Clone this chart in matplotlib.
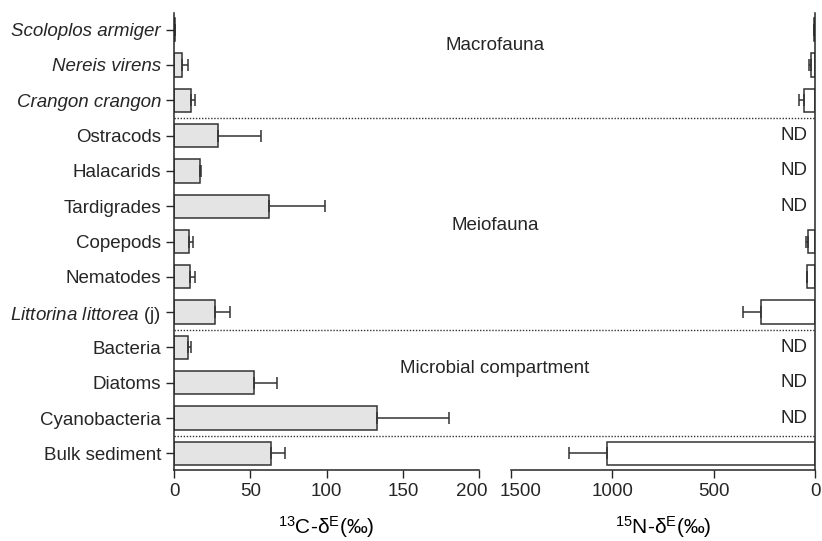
import matplotlib
matplotlib.use("Agg")
import matplotlib.pyplot as plt
import matplotlib.transforms as mtrans
import numpy as np

plt.rcParams['font.family'] = ['Liberation Sans', 'DejaVu Sans']
plt.rcParams['mathtext.fontset'] = 'custom'
plt.rcParams['mathtext.rm'] = 'Liberation Sans'
plt.rcParams['mathtext.it'] = 'Liberation Sans:italic'
plt.rcParams['font.size'] = 13.5

# Categories, top to bottom
taxa = ["Scoloplos armiger", "Nereis virens", "Crangon crangon", "Ostracods",
        "Halacarids", "Tardigrades", "Copepods", "Nematodes",
        r"$\mathit{Littorina\ littorea}$ (j)", "Bacteria", "Diatoms",
        "Cyanobacteria", "Bulk sediment"]
italic = [True, True, True, False, False, False, False, False,
          False, False, False, False, False]

# 13C excess (per mil) and error
c13 = [0.6, 5.2, 10.7, 28.7, 16.6, 61.9, 9.4, 10.5, 26.5, 8.8, 52.6, 133.1, 63.2]
c13_err = [0, 3.7, 2.6, 28.2, 1.1, 37.1, 2.6, 2.8, 10.3, 2.2, 14.5, 46.9, 9.6]

# 15N excess (per mil) and error, None = not determined
n15 = [5, 18, 56, None, None, None, 35, 41, 266, None, None, None, 1027]
n15_err = [0, 12, 24, 0, 0, 0, 9, 0, 87, 0, 0, 0, 185]

groups = ["Macrofauna", "Meiofauna", "Microbial compartment"]
group_y = [0.45, 5.55, 9.6]
separators = [2.5, 8.5, 11.5]

ink = "#262626"
fig = plt.figure(figsize=(8.22, 5.41), dpi=100)
W, H = 822, 541
ax1 = fig.add_axes([174.3 / W, 1 - 470 / H, (479 - 174.3) / W, (470 - 13) / H])
ax2 = fig.add_axes([510.7 / W, 1 - 470 / H, (815 - 510.7) / W, (470 - 13) / H])
ax2.patch.set_visible(False)

y = np.arange(len(taxa))
bh = 0.66
ekw = dict(elinewidth=1.1, capthick=1.1, ecolor="#333333")

ax1.barh(y, c13, height=bh, color="#e4e4e4", edgecolor="#333333", linewidth=1.1,
         xerr=[np.zeros(len(y)), c13_err], capsize=4, error_kw=ekw)
ax1.set_xlim(0, 200)
ax1.set_ylim(12.47, -0.47)
ax1.set_yticks(y)
ax1.set_yticklabels(taxa)
for lab, it in zip(ax1.get_yticklabels(), italic):
    if it:
        lab.set_style("italic")
ax1.set_xticks([0, 50, 100, 150, 200])
ax1.spines["top"].set_visible(False)
ax1.spines["right"].set_visible(False)
ax1.set_xlabel(r"$^{13}$C-δ$^{\mathrm{E}}$(‰)", fontsize=15, labelpad=10)

n_y = [i for i, v in enumerate(n15) if v is not None]
n_v = [n15[i] for i in n_y]
n_e = [n15_err[i] for i in n_y]
ax2.barh(n_y, n_v, height=bh, color="white", edgecolor="#333333", linewidth=1.1,
         xerr=[np.zeros(len(n_y)), n_e], capsize=4, error_kw=ekw)
for i, v in enumerate(n15):
    if v is None:
        ax2.text(35, i, "ND", ha="right", va="center", color=ink)
ax2.set_xlim(1500, 0)
ax2.set_ylim(12.47, -0.47)
ax2.set_yticks([])
ax2.set_xticks([1500, 1000, 500, 0])
ax2.spines["top"].set_visible(False)
ax2.spines["left"].set_visible(False)
ax2.set_xlabel(r"$^{15}$N-δ$^{\mathrm{E}}$(‰)", fontsize=15, labelpad=10)

for ax in (ax1, ax2):
    ax.tick_params(length=6, width=1, color=ink, labelcolor=ink)
    for s in ax.spines.values():
        s.set_linewidth(1.1)
        s.set_color(ink)

# nudge the two crowded labels at the break apart
fig.canvas.draw()
for lab, dx in ((ax1.get_xticklabels()[-1], -7), (ax2.get_xticklabels()[0], 10)):
    lab.set_transform(lab.get_transform() +
                      mtrans.ScaledTranslation(dx / 100, 0, fig.dpi_scale_trans))

# dotted separators spanning both panels
span = (815 - 174.3) / (479 - 174.3)
for s in separators:
    ax1.axhline(s, xmin=0, xmax=span, clip_on=False, color="#333333",
                linestyle=(0, (1, 1.2)), linewidth=1)

for g, gy in zip(groups, group_y):
    yy = ax1.transData.transform((0, gy))[1]
    fy = fig.transFigure.inverted().transform((0, yy))[1]
    fig.text(495 / W, fy, g, ha="center", va="center", color=ink)

fig.savefig("out.png", dpi=100)
